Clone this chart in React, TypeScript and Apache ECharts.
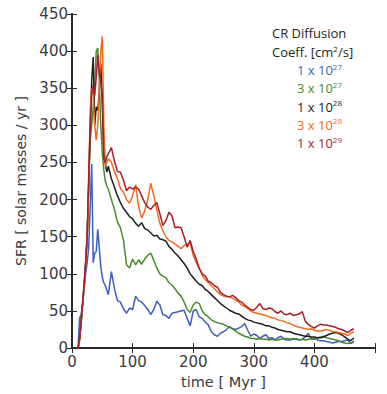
import React, { useEffect, useRef } from "react";
import * as echarts from "echarts";

// time grid [Myr]
const times = [
  10, 12.5, 15, 17.5, 20, 22.5, 25, 27.5, 30, 32.5, 35, 37.5, 40, 42.5, 45, 47.5, 50, 52.5, 55, 57.5, 60,
  65, 70, 75, 80, 85, 90, 95, 100,
  105, 110, 115, 120, 125, 130, 135, 140, 145, 150,
  155, 160, 165, 170, 175, 180, 185, 190, 195, 200,
  205, 210, 215, 220, 225, 230, 235, 240, 245, 250,
  255, 260, 265, 270, 275, 280, 285, 290, 295, 300,
  305, 310, 315, 320, 325, 330, 335, 340, 345, 350,
  355, 360, 365, 370, 375, 380, 385, 390, 395, 400,
  405, 410, 415, 420, 425, 430, 435, 440, 445, 450,
  455, 460, 465,
];

// SFR [solar masses / yr]
const sfr1e27 = [
  0, 40, 45, 60, 80, 100, 115, 135, 190, 248, 115, 128, 130, 160, 135, 110, 95, 88, 84, 78, 72,
  103, 80, 64, 62, 53, 47, 54, 52,
  70, 64, 62, 57, 52, 45, 52, 63, 58, 45,
  44, 40, 47, 48, 49, 50, 51, 40, 30, 50,
  52, 42, 40, 35, 31, 22, 18, 16, 20, 22,
  25, 29, 26, 25, 27, 29, 33, 24, 16, 19,
  17, 13, 16, 18, 13, 14, 11, 14, 16, 12,
  11, 11, 12, 13, 11, 12, 15, 20, 12, 13,
  11, 10, 10, 9, 8, 7, 8, 9, 9, 10,
  11, 6, 10,
];
const sfr3e27 = [
  0, 12, 35, 60, 85, 115, 150, 215, 280, 300, 325, 355, 400, 404, 360, 300, 262, 240, 225, 218, 214,
  200, 187, 170, 162, 145, 112, 108, 120,
  112, 119, 113, 120, 125, 128, 118, 108, 100, 97,
  95, 88, 85, 80, 74, 70, 62, 52, 48, 58,
  62, 60, 50, 45, 42, 38, 36, 34, 33, 32,
  30, 28, 26, 23, 20, 18, 16, 15, 13, 13,
  12, 13, 12, 12, 11, 12, 11, 11, 12, 13,
  13, 12, 13, 12, 11, 12, 11, 12, 13, 12,
  14, 15, 16, 14, 13, 12, 11, 10, 8, 7,
  6, 7, 8,
];
const sfr1e28 = [
  0, 12, 35, 60, 85, 115, 150, 220, 290, 360, 392, 300, 325, 320, 345, 383, 330, 265, 248, 237, 245,
  228, 217, 205, 196, 188, 183, 177, 174,
  168, 164, 169, 161, 159, 155, 151, 152, 147, 146,
  144, 137, 133, 128, 124, 119, 114, 108, 100, 95,
  90, 86, 84, 79, 76, 72, 68, 64, 60, 57,
  54, 51, 49, 47, 46, 43, 40, 38, 37, 35,
  34, 33, 32, 30, 30, 28, 27, 25, 24, 23,
  22, 22, 20, 19, 18, 17, 16, 16, 15, 15,
  14, 14, 15, 17, 19, 20, 21, 20, 18, 15,
  12, 10, 14,
];
const sfr3e28 = [
  0, 10, 33, 58, 83, 112, 148, 215, 320, 350, 340, 300, 280, 300, 345, 400, 420, 300, 245, 250, 255,
  250, 238, 228, 215, 210, 200, 195, 205,
  220, 190, 175, 185, 200, 222, 205, 186, 168, 158,
  150, 145, 143, 140, 137, 134, 138, 140, 142, 125,
  115, 108, 98, 92, 88, 84, 80, 76, 72, 70,
  69, 69, 67, 65, 62, 58, 56, 53, 50, 48,
  47, 46, 45, 44, 42, 41, 40, 38, 37, 36,
  34, 33, 31, 29, 28, 27, 26, 25, 26, 24,
  23, 23, 24, 25, 24, 22, 22, 21, 20, 19,
  17, 20, 22,
];
const sfr1e29 = [
  0, 12, 35, 60, 85, 115, 150, 230, 300, 345, 355, 340, 365, 395, 370, 360, 340, 255, 250, 258, 262,
  270, 252, 238, 237, 226, 212, 217, 214,
  217, 214, 205, 196, 190, 187, 192, 196, 181, 165,
  172, 183, 178, 162, 163, 162, 150, 136, 145, 130,
  120, 107, 100, 97, 90, 88, 84, 82, 75, 72,
  70, 69, 71, 68, 64, 62, 58, 55, 52, 51,
  55, 60, 53, 52, 54, 53, 49, 47, 50, 46,
  45, 47, 44, 45, 46, 49, 36, 32, 29, 27,
  30, 32, 31, 31, 30, 29, 28, 26, 25, 23,
  21, 24, 26,
];

const xTicks = [0, 100, 200, 300, 400];
const legendLabels = [
  { base: "1 x 10", exp: "27" },
  { base: "3 x 10", exp: "27" },
  { base: "1 x 10", exp: "28" },
  { base: "3 x 10", exp: "28" },
  { base: "1 x 10", exp: "29" },
];
const seriesValues = [sfr1e27, sfr3e27, sfr1e28, sfr3e28, sfr1e29];
const seriesColors = ["#3d5fbf", "#4b8a2c", "#1e1e1e", "#f26a22", "#a31f2b"];

const AXIS_COLOR = "#2a2a2a";
const LABEL_COLOR = "#3a3a3a";
const TICK_FONT = "DejaVu Sans";
const LEGEND_FONT = "Open Sans";

export default function App() {
  const ref = useRef<HTMLDivElement>(null);

  useEffect(() => {
    if (!ref.current) return;
    const chart = echarts.init(ref.current, undefined, { renderer: "svg" });

    const frameLine = { show: true, lineStyle: { color: AXIS_COLOR, width: 1.8 } };
    const innerTick = { show: true, inside: true, length: 5, lineStyle: { color: AXIS_COLOR, width: 1 } };

    const series = seriesValues.map((vals, i) => ({
      name: legendLabels[i].base + legendLabels[i].exp,
      type: "line",
      xAxisIndex: 0,
      yAxisIndex: 0,
      symbol: "none",
      showSymbol: false,
      data: times.map((t, k) => [t, vals[k]]),
      lineStyle: { color: seriesColors[i], width: 1.5 },
      itemStyle: { color: seriesColors[i] },
      z: 2 + i,
    }));

    const legendTexts: any[] = [
      {
        type: "text",
        x: 272,
        y: 33,
        style: {
          text: "CR Diffusion",
          fill: "#231f20",
          font: `13px "${LEGEND_FONT}"`,
          verticalAlign: "middle",
        },
      },
      {
        type: "text",
        x: 272,
        y: 52,
        style: {
          text: "{a|Coeff. [cm}{s|2}{a|/s]}",
          verticalAlign: "middle",
          rich: {
            a: { fontSize: 13, fontFamily: LEGEND_FONT, fill: "#231f20", lineHeight: 16 },
            s: { fontSize: 8, fontFamily: LEGEND_FONT, verticalAlign: "top", fill: "#231f20", lineHeight: 16 },
          },
        },
      },
    ];
    legendLabels.forEach((l, i) => {
      legendTexts.push({
        type: "text",
        x: 297,
        y: 70 + i * 18.3,
        style: {
          text: `{a|${l.base}}{s|${l.exp}}`,
          verticalAlign: "middle",
          rich: {
            a: { fontSize: 13, fontFamily: LEGEND_FONT, fill: seriesColors[i], lineHeight: 16 },
            s: { fontSize: 8, fontFamily: LEGEND_FONT, fill: seriesColors[i], verticalAlign: "top", lineHeight: 16 },
          },
        },
      });
    });

    chart.setOption({
      animation: false,
      backgroundColor: "#ffffff",
      grid: { left: 72, top: 14, right: 12, bottom: 44, containLabel: false },
      xAxis: [
        {
          type: "value",
          min: 0,
          max: 500,
          interval: 100,
          position: "bottom",
          axisLine: frameLine,
          axisTick: innerTick,
          splitLine: { show: false },
          axisLabel: {
            color: LABEL_COLOR,
            fontSize: 15,
            fontWeight: "normal",
            fontFamily: TICK_FONT,
            margin: 6,
            formatter: (v: number) => (xTicks.includes(v) ? String(v) : ""),
          },
          name: "time [ Myr ]",
          nameLocation: "middle",
          nameGap: 22,
          nameTextStyle: { color: LABEL_COLOR, fontSize: 14.5, fontWeight: "normal", fontFamily: TICK_FONT },
        },
        {
          type: "value",
          min: 0,
          max: 500,
          interval: 100,
          position: "top",
          axisLine: frameLine,
          axisTick: innerTick,
          splitLine: { show: false },
          axisLabel: { show: false },
        },
      ],
      yAxis: [
        {
          type: "value",
          min: 0,
          max: 450,
          interval: 50,
          position: "left",
          axisLine: frameLine,
          axisTick: innerTick,
          splitLine: { show: false },
          axisLabel: {
            color: LABEL_COLOR,
            fontSize: 15,
            fontWeight: "normal",
            fontFamily: TICK_FONT,
            margin: 4,
          },
          name: "SFR [ solar masses / yr ]",
          nameLocation: "middle",
          nameGap: 44,
          nameTextStyle: { color: LABEL_COLOR, fontSize: 14, fontWeight: "normal", fontFamily: TICK_FONT },
        },
        {
          type: "value",
          min: 0,
          max: 450,
          interval: 50,
          position: "right",
          axisLine: frameLine,
          axisTick: innerTick,
          splitLine: { show: false },
          axisLabel: { show: false },
        },
      ],
      series,
      graphic: legendTexts,
    });

    return () => chart.dispose();
  }, []);

  return <div ref={ref} style={{ width: 387, height: 394, position: "absolute", left: 0, top: 0 }} />;
}
